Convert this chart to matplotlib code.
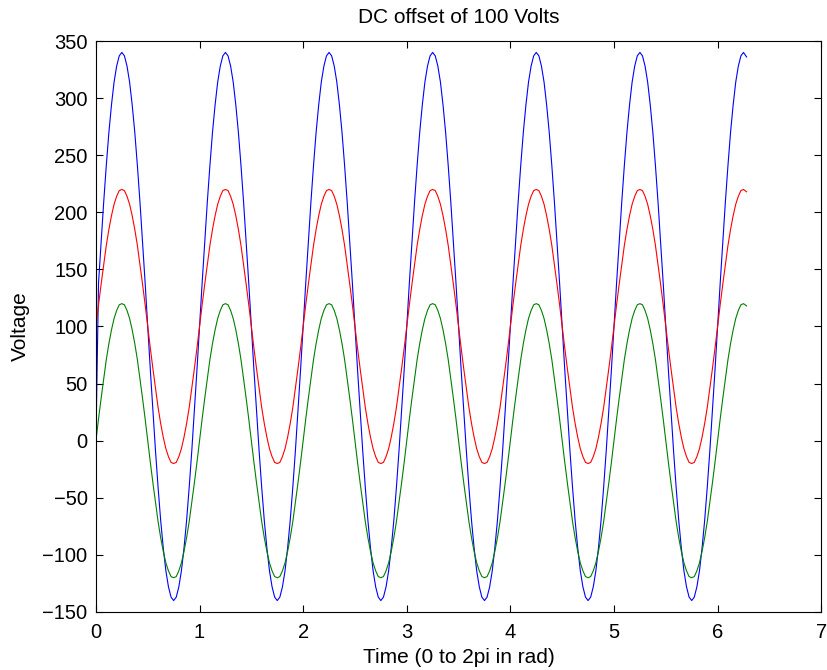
import matplotlib
matplotlib.use('Agg')
import matplotlib.pyplot as plt
import numpy as np

plt.rcParams['font.family'] = ['Liberation Sans', 'DejaVu Sans']

# sample times (rad): step 0.025, last sample at 6.28
time = np.append(np.linspace(0, 6.25, 251), 6.28)

# one period of each trace (40 samples per period)
blue_period = [100, 138, 174, 209, 241, 270, 294, 314, 328, 337, 340, 337, 328, 314, 294, 270, 241, 209, 174, 138,
               100, 62, 26, -9, -41, -70, -94, -114, -128, -137, -140, -137, -128, -114, -94, -70, -41, -9, 26, 62]
green_period = [0, 19, 37, 54, 71, 85, 97, 107, 114, 119, 120, 119, 114, 107, 97, 85, 71, 54, 37, 19,
                0, -19, -37, -54, -71, -85, -97, -107, -114, -119, -120, -119, -114, -107, -97, -85, -71, -54, -37, -19]
red_period = [100, 119, 137, 154, 171, 185, 197, 207, 214, 219, 220, 219, 214, 207, 197, 185, 171, 154, 137, 119,
              100, 81, 63, 46, 29, 15, 3, -7, -14, -19, -20, -19, -14, -7, 3, 15, 29, 46, 63, 81]

# six full periods, then the last quarter up to 6.25 and the end point
blue = [0] + blue_period[1:] + blue_period * 5 + blue_period[:11] + [336]
green = green_period * 6 + green_period[:11] + [118]
red = red_period * 6 + red_period[:11] + [218]

fig = plt.figure(figsize=(8.27, 6.70), dpi=100)
ax = fig.add_axes([0.116, 0.0866, 0.877, 0.8522])

ax.plot(time, blue, color='#0000ff', linewidth=0.8)
ax.plot(time, green, color='#008000', linewidth=0.8)
ax.plot(time, red, color='#ff0000', linewidth=0.8)

ax.set_xlim(0, 7)
ax.set_ylim(-150, 350)
ax.set_xticks(range(0, 8))
ax.set_yticks(range(-150, 351, 50))
ax.tick_params(direction='in', length=5, top=True, right=True, labelsize=14.5, width=0.8, pad=6)
ax.tick_params(axis='x', pad=8)
for s in ax.spines.values():
    s.set_linewidth(0.8)

ax.set_title('DC offset of 100 Volts', fontsize=15, pad=13)
ax.set_xlabel('Time (0 to 2pi in rad)', fontsize=15, labelpad=4)
ax.set_ylabel('Voltage', fontsize=15, labelpad=9)

fig.savefig('out.png', dpi=100)
